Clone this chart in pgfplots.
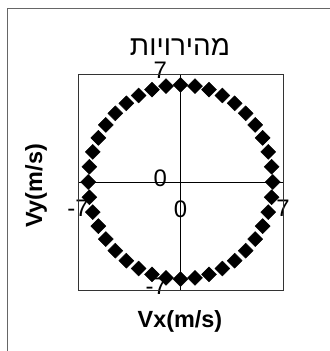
\documentclass[border=0pt]{standalone}
\usepackage{fontspec}
\usepackage{pgfplots}
\pgfplotsset{compat=1.18}
\setmainfont{Liberation Sans}
\newfontfamily\hebfont[Script=Hebrew]{Liberation Sans}
\TeXXeTstate=1

% velocity components sampled every 9 degrees around the circle
\pgfplotstableread{
vx vy
6.30 0.00
6.22 0.99
5.99 1.95
5.61 2.86
5.10 3.70
4.45 4.45
3.70 5.10
2.86 5.61
1.95 5.99
0.99 6.22
0.00 6.30
-0.99 6.22
-1.95 5.99
-2.86 5.61
-3.70 5.10
-4.45 4.45
-5.10 3.70
-5.61 2.86
-5.99 1.95
-6.22 0.99
-6.30 0.00
-6.22 -0.99
-5.99 -1.95
-5.61 -2.86
-5.10 -3.70
-4.45 -4.45
-3.70 -5.10
-2.86 -5.61
-1.95 -5.99
-0.99 -6.22
0.00 -6.30
0.99 -6.22
1.95 -5.99
2.86 -5.61
3.70 -5.10
4.45 -4.45
5.10 -3.70
5.61 -2.86
5.99 -1.95
6.22 -0.99
}\velocities

\begin{document}
\begin{tikzpicture}[x=1bp,y=1bp]
\useasboundingbox (0,0) rectangle (330,351);
% outer frame
\draw[black!60, line width=1.8bp] (7.5,-5) -- (7.5,342.5) -- (340,342.5);

\begin{axis}[
  at={(78bp,61bp)}, anchor=south west,
  scale only axis, width=205bp, height=216bp,
  xmin=-7, xmax=7, ymin=-7, ymax=7,
  axis lines=middle,
  axis line style={-, black, line width=0.8bp},
  hide obscured x ticks=false, hide obscured y ticks=false,
  xtick={-7,0,7}, ytick={-7,0,7},
  major tick length=0pt,
  /pgf/number format/assume math mode=true,
  tick label style={font=\fontsize{24}{24}\selectfont},
  xticklabel style={anchor=north, yshift=-15bp},
  yticklabel style={anchor=east, xshift=-10bp, yshift=4bp},
  clip=false,
]
\draw[black!80, line width=0.9bp] (rel axis cs:0,0) rectangle (rel axis cs:1,1);
\addplot[only marks, mark=square*, mark size=5.3bp,
  mark options={rotate=45, fill=black, draw=black}]
  table[x=vx, y=vy] {\velocities};
\end{axis}

\node[anchor=base] at (180,296) {\fontsize{28}{28}\selectfont\hebfont\beginR מהירויות\endR};
\node at (180,30) {\fontsize{23.5}{23.5}\selectfont\bfseries Vx(m/s)};
\node[rotate=90] at (36,165) {\fontsize{23.5}{23.5}\selectfont\bfseries Vy(m/s)};
\end{tikzpicture}
\end{document}
